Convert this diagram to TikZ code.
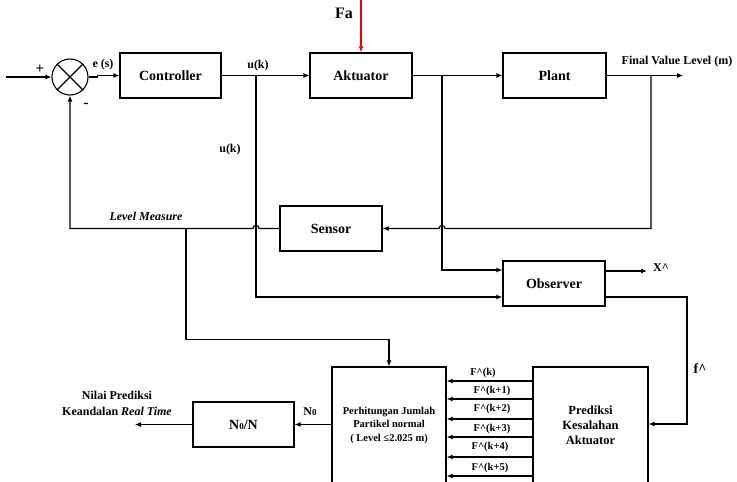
\documentclass[tikz,border=0pt]{standalone}
\usepackage{fontspec}
\setmainfont{Liberation Serif}
\usetikzlibrary{arrows.meta}
\begin{document}
\begin{tikzpicture}[x=1pt,y=-1pt, line width=1.1pt,
  blk/.style={draw, line width=1.2pt, inner sep=0, align=center, font=\fontsize{14}{16}\selectfont\bfseries},
  lbl/.style={font=\fontsize{12}{14}\selectfont\bfseries, inner sep=0},
  flbl/.style={font=\fontsize{10.5}{12}\selectfont\bfseries, inner sep=0},
  arr/.style={-{Latex[length=6pt,width=5pt]}}]
\useasboundingbox (0,0) rectangle (737,482);
% blocks
\node[draw, circle, minimum size=36pt, inner sep=0] (sum) at (70,77) {};
\draw (sum.north west) -- (sum.south east);
\draw (sum.north east) -- (sum.south west);
\node[blk, minimum width=101pt, minimum height=45pt] (ctrl) at (170.5,75.5) {Controller};
\node[blk, minimum width=102pt, minimum height=45pt] (akt) at (361,75.5) {Aktuator};
\node[blk, minimum width=103pt, minimum height=45pt] (plant) at (554.5,75.5) {Plant};
\node[blk, minimum width=102pt, minimum height=45pt] (sensor) at (331,228.5) {Sensor};
\node[blk, minimum width=102pt, minimum height=45pt] (obs) at (554,283.5) {Observer};
\node[blk, minimum width=101pt, minimum height=45pt] (nn) at (243.5,424.5) {N{\fontsize{9}{9}\selectfont 0}/N};
\node[blk, minimum width=114pt, minimum height=116pt, font=\fontsize{10.5}{13.5}\selectfont\bfseries] (perh) at (389,425) {Perhitungan Jumlah\\Partikel normal\\( Level ≤2.025 m)};
\node[blk, minimum width=115pt, minimum height=116pt, font=\fontsize{12.5}{15}\selectfont\bfseries] (pred) at (590.5,425) {Prediksi\\Kesalahan\\Aktuator};
% coordinates
\coordinate (in) at (6,77);
\coordinate (uk) at (256,75.5);
\coordinate (ukb) at (256,297);
\coordinate (ak) at (442,75.5);
\coordinate (akb) at (442,270);
\coordinate (pl) at (651,75.5);
\coordinate (plb) at (651,228.5);
\coordinate (out) at (683,75.5);
\coordinate (lm) at (70,228.5);
\coordinate (lmb) at (186,228.5);
\coordinate (lmc) at (186,339.5);
\coordinate (xo) at (647,271);
\coordinate (fo) at (687,297);
\coordinate (fd) at (687,424);
\coordinate (nout) at (135,424.5);
\coordinate (fa) at (361,0);
% connectors
\draw[arr] (in) -- (sum.west);
\draw[arr] (sum.east) -- ++(9,0) |- (ctrl.west);
\draw[arr] (ctrl.east) -- (akt.west);
\draw[arr] (akt.east) -- (plant.west);
\draw[arr] (plant.east) -- (out);
\draw[arr] (uk) -- (ukb) -- (obs.west |- ukb);
\draw[arr] (ak) -- (akb) -- (obs.west |- akb);
\draw[arr] (pl) -- (plb) -- (445,228.5) .. controls (445,224.5) and (439,224.5) .. (439,228.5) -- (sensor.east);
\draw[arr] (sensor.west) -- (259,228.5) .. controls (259,224.5) and (253,224.5) .. (253,228.5) -- (lm) -- (sum.south);
\draw[arr] (lmb) -- (lmc) -- (perh.north |- lmc) -- (perh.north);
\draw[arr] (obs.east |- xo) -- (xo);
\draw[arr] (obs.east |- fo) -- (fo) -- (fd) -- (pred.east |- fd);
\foreach \yy/\tt/\lx/\ly in {381/k/483/373, 399/k+1/492/391, 419/k+2/492/409, 437/k+3/492/429, 457/k+4/490/447, 476/k+5/490/468}{
  \draw[arr] (pred.west |- 0,\yy) -- (perh.east |- 0,\yy);
  \node[flbl] at (\lx,\ly) {F\^{}(\tt)};
}
\draw[arr] (perh.west |- nn.east) -- (nn.east);
\draw[arr] (nn.west) -- (nout);
\draw[arr, red] (fa) -- (akt.north);
% labels
\node[lbl, font=\fontsize{16}{18}\selectfont\bfseries] at (344,13) {Fa};
\node[lbl, font=\fontsize{15}{17}\selectfont\bfseries] at (40,69) {+};
\node[lbl, font=\fontsize{15}{17}\selectfont\bfseries] at (86,105) {-};
\node[lbl] at (103,65) {e (s)};
\node[lbl] at (258,66) {u(k)};
\node[lbl] at (230,150) {u(k)};
\node[lbl] at (677,62) {Final Value Level (m)};
\node[lbl, font=\fontsize{12}{14}\selectfont\bfseries\itshape] at (146,216) {Level Measure};
\node[lbl] at (661,268) {X\^{}};
\node[lbl, font=\fontsize{14}{16}\selectfont\bfseries] at (700,369) {f\^{}};
\node[lbl] at (310,412) {N{\fontsize{9}{9}\selectfont 0}};
\node[lbl, align=center, font=\fontsize{12}{16}\selectfont\bfseries] at (117,403) {Nilai Prediksi\\Keandalan \textit{Real Time}};
\end{tikzpicture}
\end{document}
